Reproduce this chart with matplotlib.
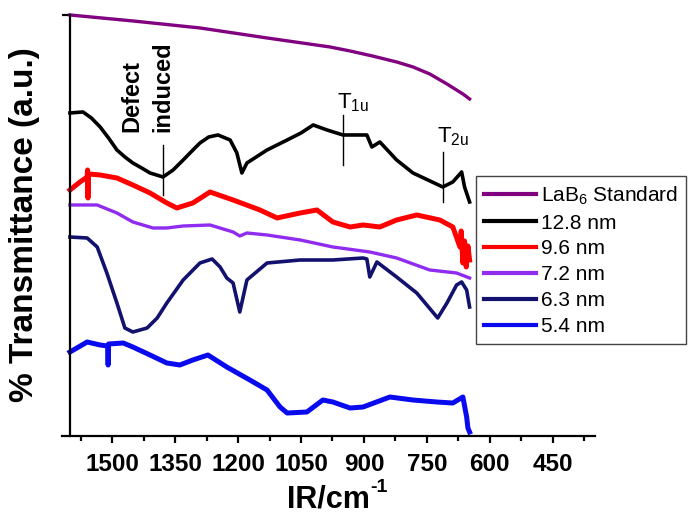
import numpy as np
import matplotlib.pyplot as plt
from matplotlib.ticker import MultipleLocator

plt.rcParams['font.family'] = ['Liberation Sans', 'DejaVu Sans']
plt.rcParams['mathtext.fontset'] = 'custom'
plt.rcParams['mathtext.rm'] = 'Liberation Sans'
plt.rcParams['mathtext.it'] = 'Liberation Sans:italic'
plt.rcParams['mathtext.bf'] = 'Liberation Sans:bold'
plt.rcParams['mathtext.default'] = 'regular'

# FTIR spectra, offset stacked (a.u.)
lab6_x = [1601, 1451, 1291, 1131, 981, 933, 880, 822, 783, 743, 702, 664, 648]
lab6_y = [421, 415, 408, 398, 389, 385, 380, 374, 369, 362, 352, 342, 337]

nm128_x = [1601, 1570, 1550, 1529, 1509, 1489, 1470, 1451, 1430, 1410, 1379, 1355, 1331,
           1310, 1291, 1270, 1248, 1219, 1203, 1191, 1179, 1131, 1083, 1050, 1021, 988,
           950, 893, 881, 862, 822, 783, 712, 688, 667, 660, 648]
nm128_y = [323, 324, 318, 309, 298, 286, 279, 273, 268, 263, 259, 266, 276,
           285, 293, 299, 301, 296, 283, 263, 273, 286, 296, 303, 311, 306,
           301, 301, 289, 294, 276, 263, 249, 254, 264, 249, 234]

nm96_x = [1601, 1577, 1560, 1559, 1558, 1557, 1529, 1489, 1451, 1410, 1370, 1346, 1308,
          1267, 1212, 1148, 1107, 1052, 1012, 974, 933, 902, 862, 822, 774, 719, 688,
          671, 668, 664, 660, 656, 652, 648]
nm96_y = [246, 254, 259, 266, 238, 262, 261, 258, 251, 243, 233, 228, 233,
          244, 236, 226, 218, 223, 226, 214, 209, 211, 209, 216, 221, 216, 209,
          189, 205, 173, 195, 169, 190, 176]

nm72_x = [1601, 1536, 1489, 1451, 1403, 1370, 1331, 1267, 1212, 1196, 1179, 1131, 1052,
          974, 886, 822, 743, 679, 648]
nm72_y = [231, 231, 223, 214, 208, 208, 210, 211, 204, 200, 203, 201, 196,
          189, 184, 178, 166, 163, 158]

nm63_x = [1601, 1560, 1536, 1513, 1489, 1470, 1451, 1417, 1393, 1370, 1331, 1291, 1262,
          1243, 1227, 1212, 1196, 1179, 1131, 1052, 974, 902, 893, 886, 869, 822, 774,
          724, 702, 679, 667, 655, 648]
nm63_y = [199, 198, 189, 163, 133, 108, 104, 108, 118, 133, 156, 173, 177,
          169, 158, 153, 124, 156, 173, 176, 176, 178, 177, 159, 174, 159, 143,
          118, 133, 151, 154, 146, 129]

nm54_x = [1601, 1560, 1529, 1511, 1510, 1509, 1474, 1451, 1410, 1370, 1339, 1308, 1272,
          1227, 1172, 1131, 1100, 1083, 1036, 998, 974, 933, 902, 838, 783, 726, 688,
          664, 655, 652, 648]
nm54_y = [84, 94, 91, 90, 71, 92, 93, 89, 81, 73, 71, 76, 81,
          69, 56, 46, 29, 23, 24, 36, 34, 28, 29, 39, 36, 34, 33,
          39, 19, 8, 4]

series = [
    ("LaB$_6$ Standard", lab6_x, lab6_y, '#800080', 2.4),
    ("12.8 nm", nm128_x, nm128_y, 'black', 2.6),
    ("9.6 nm", nm96_x, nm96_y, '#ff0000', 3.6),
    ("7.2 nm", nm72_x, nm72_y, '#8f2cf0', 2.4),
    ("6.3 nm", nm63_x, nm63_y, '#12126e', 2.6),
    ("5.4 nm", nm54_x, nm54_y, '#0a0aee', 3.6),
]

# peak markers: wavenumber, line bottom, line top
marks = [(1379, 241, 291), (950, 271, 321), (712, 234, 284)]

fig = plt.figure(figsize=(6.98, 5.25), dpi=100)
ax = fig.add_axes([0.0888, 0.1695, 0.763, 0.802])

for lab, x, y, c, lw in series:
    ax.plot(x, y, color=c, lw=lw, label=lab, clip_on=False, solid_joinstyle='round')

for wx, y0, y1 in marks:
    ax.plot([wx, wx], [y0, y1], color='black', lw=1)

ax.text(1453, 304, "Defect", rotation=90, ha='center', va='bottom',
        fontsize=17, fontweight='bold')
ax.text(1379, 304, "induced", rotation=90, ha='center', va='bottom',
        fontsize=17, fontweight='bold')
ax.text(964, 328, "T$_{1u}$", ha='left', va='baseline', fontsize=16)
ax.text(726, 294, "T$_{2u}$", ha='left', va='baseline', fontsize=16)

ax.set_xlim(1620, 350)
ax.set_ylim(0, 421)
ax.spines['top'].set_visible(False)
ax.spines['right'].set_visible(False)
ax.spines['left'].set_position(('data', 1600))
for s in ['left', 'bottom']:
    ax.spines[s].set_linewidth(1.6)

ax.xaxis.set_minor_locator(MultipleLocator(75))
ax.set_xticks([1500, 1350, 1200, 1050, 900, 750, 600, 450])
ax.tick_params(axis='x', which='major', length=5, width=1.6, pad=7, labelsize=17.5)
ax.tick_params(axis='x', which='minor', length=3.5, width=1.6)
for t in ax.get_xticklabels():
    t.set_fontweight('bold')
ax.set_yticks([421])
ax.set_yticklabels([])
ax.tick_params(axis='y', length=6, width=1.6)

# x label with a short hyphen superscript, as in the original
fig.text(328 / 698, 17 / 525, "IR/cm", ha='center', va='baseline',
         fontsize=22, fontweight='bold')
fig.text(370 / 698, 33 / 525, "-1", ha='left', va='baseline',
         fontsize=14, fontweight='bold')
fig.text(25 / 698, 0.572, "% Transmittance (a.u.)", rotation=90, ha='center', va='center',
         fontsize=24, fontweight='bold')

leg = ax.legend(loc='upper left', bbox_to_anchor=(476 / 698, 349 / 525),
                bbox_transform=fig.transFigure, borderaxespad=0, fontsize=15,
                frameon=True, fancybox=False, framealpha=1, edgecolor='#444444',
                handlelength=2.5, handletextpad=0.2, labelspacing=0.33,
                borderpad=0.4)
leg.get_frame().set_linewidth(1.0)
for h in leg.get_lines():
    h.set_linewidth(3)

fig.savefig("out.png", dpi=100)
